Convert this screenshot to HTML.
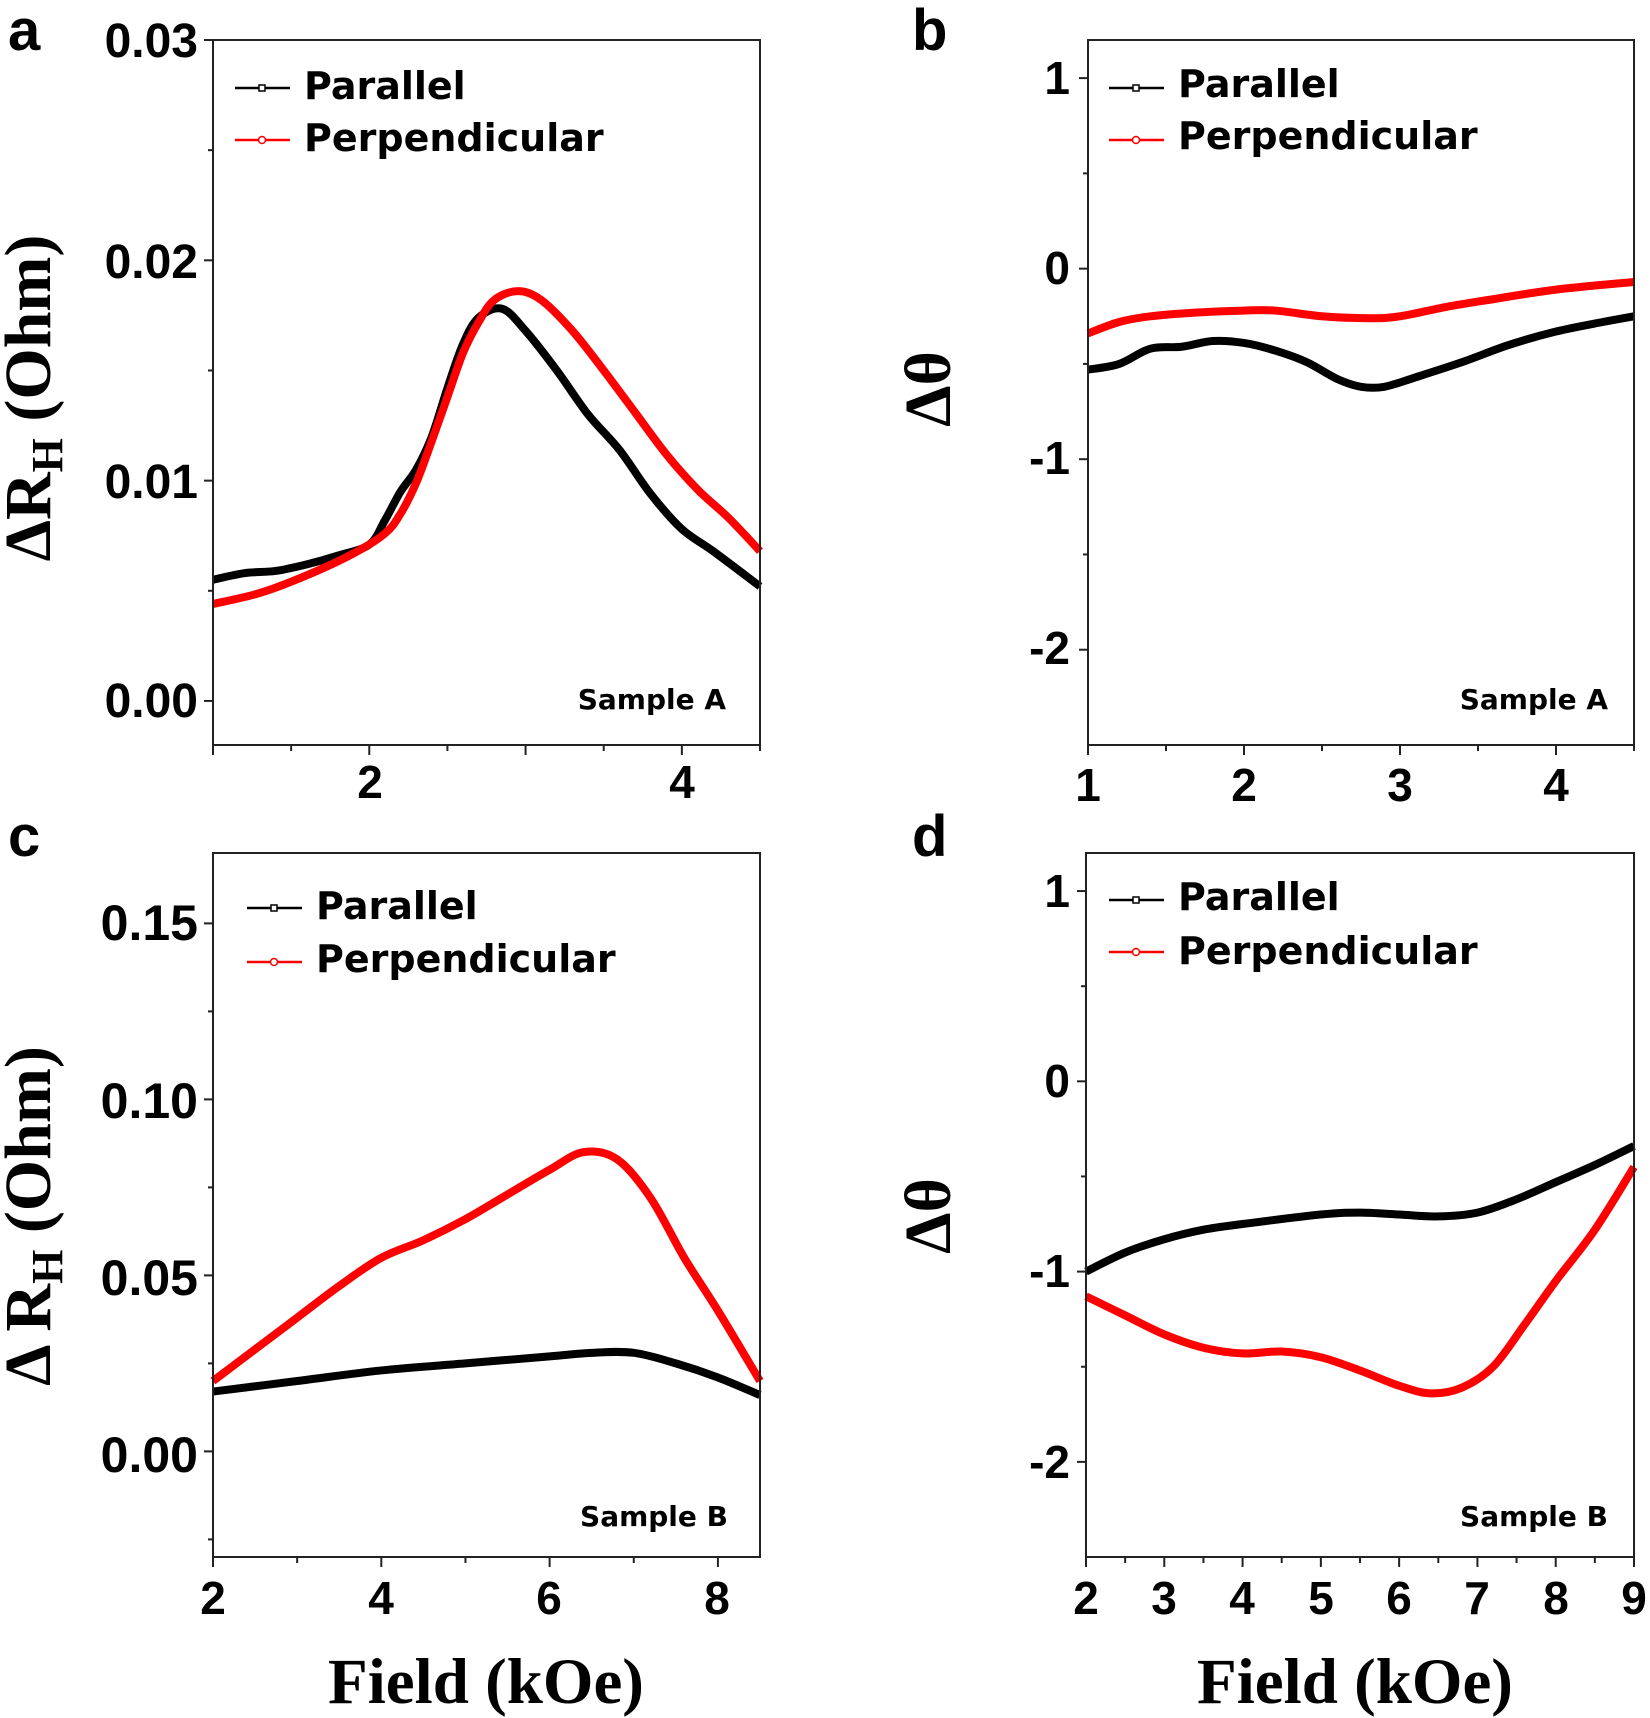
<!DOCTYPE html>
<html><head><meta charset="utf-8"><style>
html,body{margin:0;padding:0;background:#fff}
svg{display:block}
.tk{font-family:"Liberation Sans",sans-serif;font-weight:bold;fill:#000}
.lg{font-family:"DejaVu Sans",sans-serif;font-weight:bold;fill:#000}
.sr{font-family:"Liberation Serif",serif;font-weight:bold;fill:#000}
</style></head><body>
<svg id="s" width="1650" height="1718" viewBox="0 0 1650 1718" xmlns="http://www.w3.org/2000/svg">
<rect width="1650" height="1718" fill="#fff"/>
<g id="plots"></g>
<text class="tk" x="8" y="50" font-size="58">a</text>
<text class="tk" x="912" y="50" font-size="58">b</text>
<text class="tk" x="8" y="856" font-size="58">c</text>
<text class="tk" x="912" y="856" font-size="58">d</text>

<g class="tk" font-size="48" text-anchor="end">
<text x="198" y="57">0.03</text><text x="198" y="278">0.02</text><text x="198" y="498">0.01</text><text x="198" y="717">0.00</text>
</g>
<g class="tk" font-size="46" text-anchor="middle"><text x="370" y="798">2</text><text x="682" y="798">4</text></g>
<g class="tk" font-size="46" text-anchor="end">
<text x="1070" y="94">1</text><text x="1070" y="284">0</text><text x="1070" y="474">-1</text><text x="1070" y="664">-2</text>
</g>
<g class="tk" font-size="46" text-anchor="middle"><text x="1088" y="801">1</text><text x="1244" y="801">2</text><text x="1400" y="801">3</text><text x="1556" y="801">4</text></g>
<g class="tk" font-size="50" text-anchor="end">
<text x="198" y="940">0.15</text><text x="198" y="1118">0.10</text><text x="198" y="1295">0.05</text><text x="198" y="1472">0.00</text>
</g>
<g class="tk" font-size="46" text-anchor="middle"><text x="213" y="1614">2</text><text x="381" y="1614">4</text><text x="549" y="1614">6</text><text x="717" y="1614">8</text></g>
<g class="tk" font-size="46" text-anchor="end">
<text x="1070" y="907">1</text><text x="1070" y="1097">0</text><text x="1070" y="1287">-1</text><text x="1070" y="1478">-2</text>
</g>
<g class="tk" font-size="46" text-anchor="middle">
<text x="1086" y="1614">2</text><text x="1164" y="1614">3</text><text x="1242" y="1614">4</text><text x="1321" y="1614">5</text><text x="1399" y="1614">6</text><text x="1477" y="1614">7</text><text x="1556" y="1614">8</text><text x="1634" y="1614">9</text>
</g>

<text class="sr" font-size="66" text-anchor="middle" transform="translate(50,398) rotate(-90)">ΔR<tspan font-size="44" dy="12">H</tspan><tspan dy="-12"> (Ohm)</tspan></text>
<text class="sr" font-size="66" text-anchor="middle" transform="translate(50,1216) rotate(-90)">Δ R<tspan font-size="44" dy="12">H</tspan><tspan dy="-12"> (Ohm)</tspan></text>
<text class="sr" font-size="66" text-anchor="middle" transform="translate(950,389) rotate(-90)">Δθ</text>
<text class="sr" font-size="66" text-anchor="middle" transform="translate(950,1216) rotate(-90)">Δθ</text>
<text class="sr" font-size="65" text-anchor="middle" x="486" y="1703">Field (kOe)</text>
<text class="sr" font-size="65" text-anchor="middle" x="1355" y="1703">Field (kOe)</text>

<g class="lg" font-size="38">
<text x="304" y="99">Parallel</text><text x="304" y="151">Perpendicular</text>
<text x="1178" y="97">Parallel</text><text x="1178" y="149">Perpendicular</text>
<text x="316" y="919">Parallel</text><text x="316" y="972">Perpendicular</text>
<text x="1178" y="910">Parallel</text><text x="1178" y="964">Perpendicular</text>
</g>
<g class="lg" font-size="28" text-anchor="end">
<text x="726" y="709">Sample A</text><text x="1608" y="709">Sample A</text>
<text x="728" y="1526">Sample B</text><text x="1608" y="1526">Sample B</text>
</g>
</svg>
<script>
var g=document.getElementById('plots');var NS="http://www.w3.org/2000/svg";
function el(t,a){var e=document.createElementNS(NS,t);for(var k in a)e.setAttribute(k,a[k]);g.appendChild(e);return e;}
function panel(P){
 var X=function(x){return P.L+(x-P.x0)/(P.x1-P.x0)*(P.R-P.L)};
 var Y=function(y){return P.B-(y-P.y0)/(P.y1-P.y0)*(P.B-P.T)};
 P.series.forEach(function(s){
  var pts=s.d.map(function(p){return [X(p[0]),Y(p[1])]});
  var d="M"+pts[0][0]+","+pts[0][1];
  for(var i=0;i<pts.length-1;i++){var p0=pts[i-1]||pts[i],p1=pts[i],p2=pts[i+1],p3=pts[i+2]||p2;
   d+=" C"+(p1[0]+(p2[0]-p0[0])/6)+","+(p1[1]+(p2[1]-p0[1])/6)+" "+(p2[0]-(p3[0]-p1[0])/6)+","+(p2[1]-(p3[1]-p1[1])/6)+" "+p2[0]+","+p2[1];}
  el('path',{d:d,fill:'none',stroke:s.c,'stroke-width':8,'stroke-linejoin':'round'});
 });
 el('rect',{x:P.L,y:P.T,width:P.R-P.L,height:P.B-P.T,fill:'none',stroke:'#222','stroke-width':2});
 P.yt.forEach(function(v,i){var y=Y(v);el('line',{x1:P.L,x2:P.L-(i%2?5:9),y1:y,y2:y,stroke:'#222','stroke-width':2});});
 P.xt.forEach(function(v,i){var x=X(v);el('line',{x1:x,x2:x,y1:P.B,y2:P.B+(P.xmaj(i)?10:6),stroke:'#222','stroke-width':2});});
 P.leg.forEach(function(l){el('line',{x1:l[0],x2:l[0]+55,y1:l[1],y2:l[1],stroke:l[2],'stroke-width':2.5});
   if(l[3])el('rect',{x:l[0]+24,y:l[1]-3,width:6,height:6,fill:'#fff',stroke:l[2],'stroke-width':1.5});
   else el('circle',{cx:l[0]+27,cy:l[1],r:3.5,fill:'#fff',stroke:l[2],'stroke-width':1.5});});
}
function rng(a,b,s){var r=[];for(var v=a;v<=b+1e-9;v+=s)r.push(+v.toFixed(4));return r;}
panel({L:213,R:760,T:40,B:745,x0:1,x1:4.5,y0:-0.0020,y1:0.0300,
 yt:[0.03,0.025,0.02,0.015,0.01,0.005,0],
 xt:rng(1,4.5,0.5),xmaj:function(i){return i%2==0},
 leg:[[235,88,'#000',1],[235,140,'#f00',0]],
 series:[
 {c:'#000',d:[[1,0.0055],[1.2,0.0058],[1.4,0.0059],[1.6,0.0062],[1.8,0.0066],[2.0,0.0071],[2.1,0.0082],[2.2,0.0095],[2.3,0.0105],[2.4,0.012],[2.5,0.0142],[2.6,0.0162],[2.7,0.0174],[2.85,0.0178],[3.0,0.0168],[3.2,0.0150],[3.4,0.0130],[3.6,0.0114],[3.8,0.0094],[4.0,0.0078],[4.2,0.0068],[4.5,0.0052]]},
 {c:'#f00',d:[[1,0.0044],[1.3,0.0049],[1.6,0.0057],[1.9,0.0067],[2.1,0.0076],[2.2,0.0085],[2.3,0.0099],[2.4,0.0118],[2.5,0.0138],[2.6,0.0158],[2.7,0.0172],[2.8,0.0182],[2.95,0.0186],[3.1,0.0182],[3.3,0.0168],[3.5,0.015],[3.7,0.0131],[3.9,0.0112],[4.1,0.0096],[4.3,0.0083],[4.5,0.0068]]}]});
panel({L:1088,R:1634,T:40,B:745,x0:1,x1:4.5,y0:-2.5,y1:1.2,
 yt:[1,0.5,0,-0.5,-1,-1.5,-2],xt:rng(1,4.5,0.5),xmaj:function(i){return i%2==0},
 leg:[[1109,88,'#000',1],[1109,140,'#f00',0]],
 series:[
 {c:'#000',d:[[1,-0.53],[1.2,-0.50],[1.4,-0.42],[1.6,-0.41],[1.8,-0.38],[2.0,-0.39],[2.2,-0.43],[2.4,-0.49],[2.6,-0.58],[2.75,-0.62],[2.9,-0.62],[3.1,-0.57],[3.4,-0.49],[3.7,-0.40],[4.0,-0.33],[4.3,-0.28],[4.5,-0.25]]},
 {c:'#f00',d:[[1,-0.34],[1.2,-0.28],[1.4,-0.25],[1.7,-0.23],[2.0,-0.22],[2.2,-0.22],[2.5,-0.25],[2.8,-0.26],[3.0,-0.25],[3.3,-0.20],[3.6,-0.16],[4.0,-0.11],[4.5,-0.07]]}]});
panel({L:213,R:760,T:853,B:1557,x0:2,x1:8.5,y0:-0.03,y1:0.17,
 yt:[0.15,0.125,0.1,0.075,0.05,0.025,0,-0.025],xt:rng(2,8,1),xmaj:function(i){return i%2==0},
 leg:[[247,908,'#000',1],[247,962,'#f00',0]],
 series:[
 {c:'#000',d:[[2,0.017],[3,0.020],[4,0.023],[5,0.025],[6,0.027],[6.5,0.028],[7,0.028],[7.5,0.025],[8,0.021],[8.5,0.016]]},
 {c:'#f00',d:[[2,0.020],[2.5,0.029],[3,0.038],[3.5,0.047],[4,0.055],[4.5,0.060],[5,0.066],[5.5,0.073],[6,0.080],[6.4,0.085],[6.8,0.083],[7.2,0.072],[7.6,0.055],[8,0.040],[8.5,0.020]]}]});
panel({L:1086,R:1634,T:853,B:1557,x0:2,x1:9,y0:-2.5,y1:1.2,
 yt:[1,0.5,0,-0.5,-1,-1.5,-2],xt:rng(2,9,0.5),xmaj:function(i){return i%2==0},
 leg:[[1109,900,'#000',1],[1109,952,'#f00',0]],
 series:[
 {c:'#000',d:[[2,-1.0],[2.5,-0.90],[3,-0.83],[3.5,-0.78],[4,-0.75],[5,-0.70],[5.5,-0.69],[6,-0.70],[6.5,-0.71],[7,-0.69],[7.5,-0.62],[8,-0.53],[8.5,-0.44],[9,-0.34]]},
 {c:'#f00',d:[[2,-1.13],[2.5,-1.23],[3,-1.33],[3.5,-1.40],[4,-1.43],[4.5,-1.42],[5,-1.45],[5.5,-1.52],[6,-1.60],[6.4,-1.64],[6.8,-1.61],[7.2,-1.50],[7.6,-1.28],[8,-1.05],[8.5,-0.78],[9,-0.45]]}]});
</script>
</body></html>
